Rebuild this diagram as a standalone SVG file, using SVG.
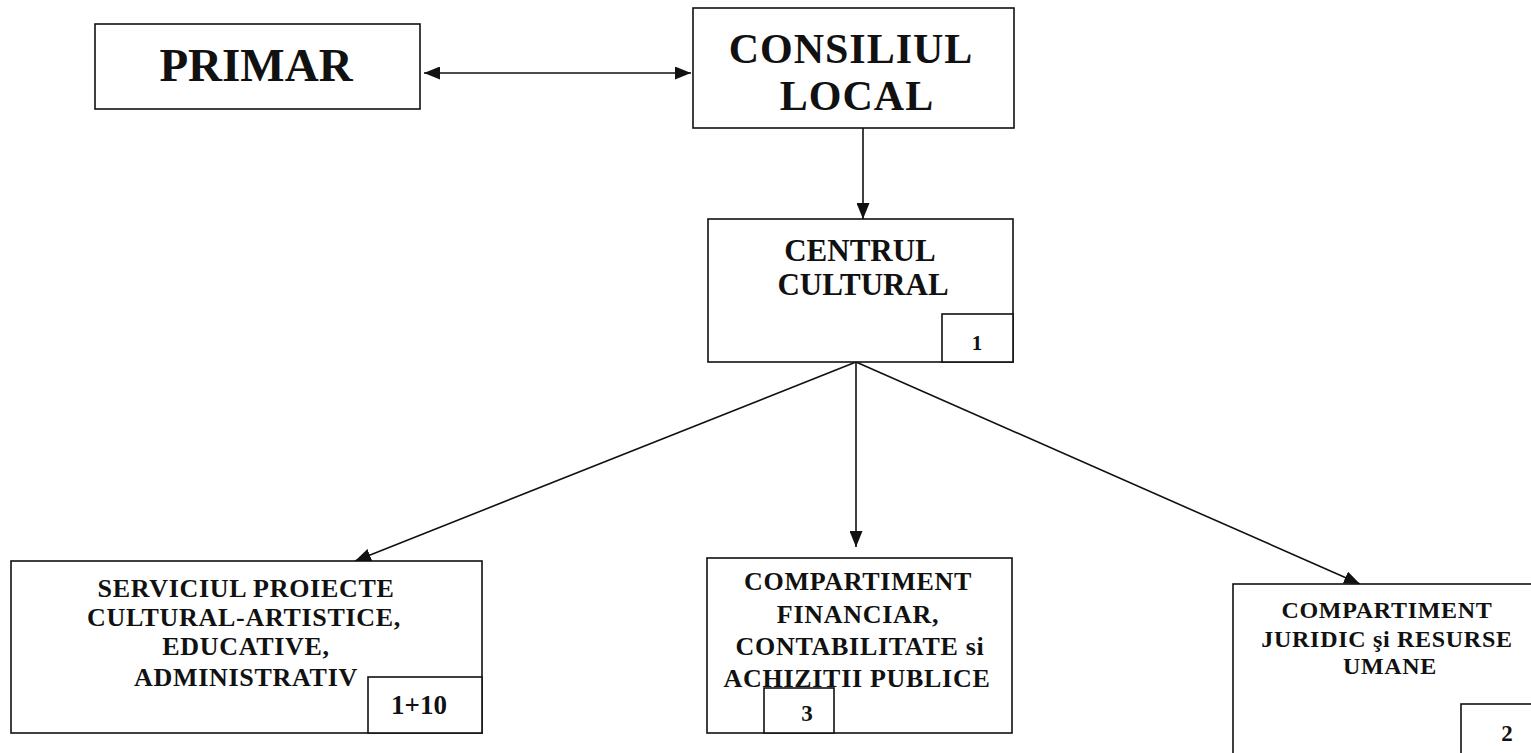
<svg xmlns="http://www.w3.org/2000/svg" width="1531" height="753" viewBox="0 0 1531 753">
  <style>
    .box { fill: #ffffff; stroke: #111111; stroke-width: 1.6; }
    .t { font-family: "Liberation Serif", "Times New Roman", serif; font-weight: bold; fill: #111111; text-anchor: middle; }
    .s { letter-spacing: 0.7px; }
    .conn { stroke: #111111; stroke-width: 1.6; fill: none; }
  </style>
  <defs>
    <marker id="ah" viewBox="0 0 16 13" refX="16" refY="6.5" markerWidth="16" markerHeight="13" markerUnits="userSpaceOnUse" orient="auto">
      <path d="M0,0 L16,6.5 L0,13 Z" fill="#111111"/>
    </marker>
    <marker id="ahs" viewBox="0 0 16 13" refX="0" refY="6.5" markerWidth="16" markerHeight="13" markerUnits="userSpaceOnUse" orient="auto">
      <path d="M16,0 L0,6.5 L16,13 Z" fill="#111111"/>
    </marker>
  </defs>
  <rect width="1531" height="753" fill="#ffffff"/>

  <g id="connectors">
    <line class="conn" x1="424" y1="73" x2="691" y2="73" marker-start="url(#ahs)" marker-end="url(#ah)"/>
    <line class="conn" x1="863" y1="128" x2="863" y2="219" marker-end="url(#ah)"/>
    <line class="conn" x1="856" y1="362" x2="355" y2="561" marker-end="url(#ah)"/>
    <line class="conn" x1="856" y1="362" x2="856" y2="547" marker-end="url(#ah)"/>
    <line class="conn" x1="856" y1="362" x2="1360" y2="584" marker-end="url(#ah)"/>
  </g>

  <g id="primar">
    <rect class="box" x="95" y="24" width="325" height="85"/>
    <text class="t" x="256" y="81" font-size="47">PRIMAR</text>
  </g>

  <g id="consiliul-local">
    <rect class="box" x="693" y="8" width="321" height="120"/>
    <text class="t" x="851" y="63" font-size="42" letter-spacing="1">CONSILIUL</text>
    <text class="t" x="857" y="110" font-size="42" letter-spacing="1">LOCAL</text>
  </g>

  <g id="centrul-cultural">
    <rect class="box" x="708" y="219" width="305" height="143"/>
    <text class="t" x="860" y="261" font-size="31">CENTRUL</text>
    <text class="t" x="863" y="295" font-size="31">CULTURAL</text>
    <rect class="box" x="942" y="314" width="71" height="48"/>
    <text class="t" x="977" y="350" font-size="21">1</text>
  </g>

  <g id="serviciul">
    <rect class="box" x="11" y="561" width="471" height="172"/>
    <text class="t s" x="246" y="597" font-size="26">SERVICIUL PROIECTE</text>
    <text class="t s" x="244" y="626" font-size="26">CULTURAL-ARTISTICE,</text>
    <text class="t s" x="246" y="655" font-size="26">EDUCATIVE,</text>
    <text class="t s" x="246" y="686" font-size="26">ADMINISTRATIV</text>
    <rect class="box" x="368" y="677" width="114" height="56"/>
    <text class="t" x="419" y="714" font-size="27">1+10</text>
  </g>

  <g id="compartiment-financiar">
    <rect class="box" x="707" y="558" width="305" height="175"/>
    <text class="t s" x="858" y="590" font-size="26">COMPARTIMENT</text>
    <text class="t s" x="858" y="623" font-size="26">FINANCIAR,</text>
    <text class="t s" x="860" y="655" font-size="26">CONTABILITATE si</text>
    <text class="t s" x="857" y="687" font-size="26">ACHIZITII PUBLICE</text>
    <rect class="box" x="764" y="688" width="70" height="45"/>
    <text class="t" x="807" y="721" font-size="23">3</text>
  </g>

  <g id="compartiment-juridic">
    <rect class="box" x="1233" y="584" width="320" height="190"/>
    <text class="t s" x="1387" y="618" font-size="24">COMPARTIMENT</text>
    <text class="t s" x="1387" y="647" font-size="24">JURIDIC şi RESURSE</text>
    <text class="t s" x="1390" y="674" font-size="24">UMANE</text>
    <rect class="box" x="1461" y="704" width="90" height="70"/>
    <text class="t" x="1507" y="741" font-size="23">2</text>
  </g>
</svg>
